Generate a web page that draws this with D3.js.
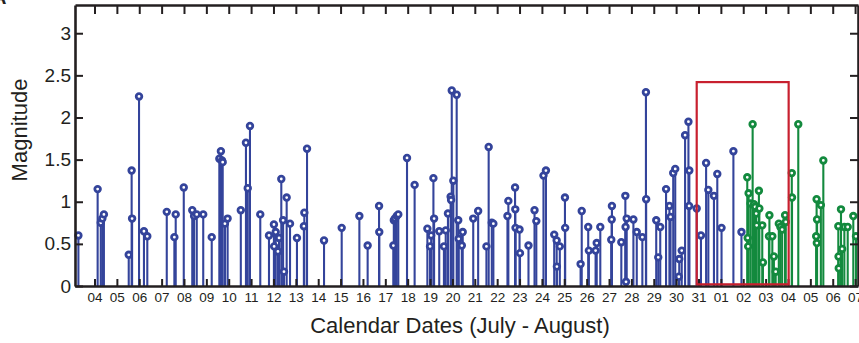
<!DOCTYPE html>
<html>
<head>
<meta charset="UTF-8">
<title>Magnitude - calendar dates</title>
<script src="https://cdn.jsdelivr.net/npm/d3@7"></script>
<style>
    body { margin: 0; background: #fff; }
    svg { display: block; }
    .axis text { fill: #231f20; font-family: "Liberation Sans", Arial, Helvetica, sans-serif; }
    .axis path, .axis line { stroke: #231f20; }
</style>
</head>
<body>
<svg width="859" height="343"></svg>
<script>
// times are days counted from "July 0", so 4.5 = July 4 noon and 32 = Aug 01
var blueTimes = [3.28, 4.14, 4.28, 4.35, 4.42, 5.53, 5.66, 5.68, 5.99, 6.21, 6.36, 7.23, 7.57, 7.63, 7.99,
    8.37, 8.45, 8.57, 8.86, 9.24, 9.58, 9.65, 9.70, 9.73, 9.83, 9.95, 10.54, 10.77, 10.85, 10.95,
    11.41, 11.80, 12.02, 12.03, 12.10, 12.20, 12.25, 12.35, 12.43, 12.47, 12.59, 12.74, 13.05, 13.36, 13.38,
    13.50, 14.26, 15.05, 15.84, 16.21, 16.72, 16.73, 17.36, 17.38, 17.43, 17.51, 17.58, 17.97, 18.31,
    18.88, 19.00, 19.05, 19.15, 19.18, 19.41, 19.62, 19.70, 19.80, 19.92, 19.94, 19.97, 20.04, 20.19,
    20.26, 20.28, 20.42, 20.46, 20.93, 21.15, 21.52, 21.62, 21.76, 21.83, 22.46, 22.50, 22.80, 22.81,
    22.82, 23.00, 23.02, 23.40, 23.67, 23.75, 24.07, 24.18, 24.55, 24.66, 24.67, 24.80, 25.03, 25.04,
    25.73, 25.78, 26.07, 26.10, 26.40, 26.45, 26.61, 27.10, 27.12, 27.13, 27.55, 27.73, 27.74, 27.76,
    27.79, 28.09, 28.24, 28.49, 28.65, 28.66, 29.11, 29.20, 29.29, 29.55, 29.70, 29.75, 29.87, 29.96,
    30.12, 30.14, 30.25, 30.40, 30.55, 30.58, 30.59, 30.92, 31.11, 31.34, 31.44, 31.69, 31.84, 32.03,
    32.56, 32.92];
var blueMags = [0.60, 1.15, 0.75, 0.80, 0.85, 0.37, 1.37, 0.80, 2.25, 0.65, 0.59, 0.88, 0.58, 0.85, 1.17,
    0.90, 0.83, 0.85, 0.85, 0.58, 1.51, 1.60, 1.49, 1.47, 0.74, 0.80, 0.90, 1.70, 1.16, 1.90,
    0.85, 0.60, 0.73, 0.47, 0.64, 0.41, 0.57, 1.27, 0.78, 0.17, 1.05, 0.74, 0.57, 0.71, 0.87,
    1.63, 0.54, 0.69, 0.83, 0.48, 0.95, 0.64, 0.48, 0.78, 0.80, 0.83, 0.85, 1.52, 1.20,
    0.68, 0.47, 0.60, 1.28, 0.80, 0.65, 0.47, 0.66, 0.86, 1.06, 1.02, 2.32, 1.25, 2.27,
    0.78, 0.56, 0.48, 0.64, 0.80, 0.89, 0.47, 1.65, 0.75, 0.74, 0.83, 1.01, 1.17, 0.91,
    0.69, 0.67, 0.39, 0.48, 0.90, 0.77, 1.31, 1.37, 0.61, 0.54, 0.23, 0.47, 1.05, 0.69,
    0.26, 0.89, 0.70, 0.42, 0.42, 0.51, 0.70, 0.55, 0.79, 0.95, 0.52, 1.07, 0.70, 0.05,
    0.80, 0.79, 0.64, 0.58, 2.30, 1.03, 0.78, 0.34, 0.70, 1.15, 0.95, 0.82, 1.34, 1.39,
    0.11, 0.32, 0.42, 1.79, 1.95, 0.95, 1.37, 0.92, 0.60, 1.46, 1.14, 1.07, 1.33, 0.69,
    1.60, 0.64];
var greenTimes = [33.18, 33.20, 33.22, 33.24, 33.33, 33.42, 33.48, 33.53, 33.58, 33.60, 33.70, 33.72,
    33.85, 33.88, 34.15, 34.17, 34.30, 34.37, 34.45, 34.59, 34.66, 34.74, 34.87, 34.90, 35.17, 35.18,
    35.46, 36.26, 36.28, 36.29, 36.30, 36.47, 36.58, 37.25, 37.26, 37.27, 37.37, 37.42, 37.52, 37.67,
    37.92, 38.04];
var greenMags = [1.29, 0.57, 0.47, 1.10, 0.98, 1.92, 0.97, 0.94, 0.86, 0.72, 1.13, 0.92,
    0.72, 0.28, 0.59, 0.84, 0.59, 0.35, 0.17, 0.74, 0.70, 0.67, 0.84, 0.76, 1.34, 1.05,
    1.92, 0.59, 1.03, 0.51, 0.79, 0.96, 1.49, 0.71, 0.35, 0.21, 0.91, 0.44, 0.70, 0.70,
    0.83, 0.59];
var yTicks = [0, 0.5, 1, 1.5, 2, 2.5, 3];
// highlighted window (red box)
var boxTimes = [30.92, 35.03];
var boxMags = [0.02, 2.42];

var svg = d3.select("svg"),
    plotLeft = 75, plotRight = 858, plotTop = 5, plotBottom = 286;

var base = new Date(2014, 5, 30);   // June 30 = "July 0"
function toDate(t) { return new Date(base.getTime() + t * 864e5); }

var x = d3.scaleTime()
    .domain([toDate(3.128), toDate(38.13)])
    .range([plotLeft, plotRight]);
var y = d3.scaleLinear()
    .domain([0, 3.335])
    .range([plotBottom, plotTop]);

var blue = "#34449b", green = "#138a3e";

function drawSeries(times, mags, color) {
    var pts = times.map(function (t, i) { return {date: toDate(t), mag: mags[i]}; });
    var g = svg.append("g");
    g.selectAll("line")
        .data(pts)
        .enter()
        .append("line")
        .attr("x1", function (d) { return x(d.date); })
        .attr("x2", function (d) { return x(d.date); })
        .attr("y1", y(0))
        .attr("y2", function (d) { return y(d.mag); })
        .attr("stroke", color)
        .attr("stroke-width", 2.1);
    g.selectAll("circle")
        .data(pts)
        .enter()
        .append("circle")
        .attr("cx", function (d) { return x(d.date); })
        .attr("cy", function (d) { return y(d.mag); })
        .attr("r", 2.8)
        .attr("fill", "#fff")
        .attr("stroke", color)
        .attr("stroke-width", 2.8);
}

drawSeries(blueTimes, blueMags, blue);
drawSeries(greenTimes, greenMags, green);

// box around the plot, ticks pointing inward
var days = d3.timeDay.every(1);

var xBottom = svg.append("g")
    .attr("class", "axis")
    .attr("transform", "translate(0," + plotBottom + ")")
    .call(d3.axisBottom(x).ticks(days).tickFormat(d3.timeFormat("%d"))
        .tickSizeInner(-7).tickSizeOuter(0).tickPadding(6));
xBottom.selectAll("text").style("font-size", "13.5px");

svg.append("g")
    .attr("class", "axis")
    .attr("transform", "translate(0," + plotTop + ")")
    .call(d3.axisTop(x).ticks(days).tickFormat("").tickSizeInner(-9).tickSizeOuter(0));

var yLeft = svg.append("g")
    .attr("class", "axis")
    .attr("transform", "translate(" + plotLeft + ",0)")
    .call(d3.axisLeft(y).tickValues(yTicks).tickFormat(d3.format(""))
        .tickSizeInner(-8).tickSizeOuter(0).tickPadding(4));
yLeft.selectAll("text").style("font-size", "19px");

svg.append("g")
    .attr("class", "axis")
    .attr("transform", "translate(" + plotRight + ",0)")
    .call(d3.axisRight(y).tickValues(yTicks).tickFormat("").tickSizeInner(-8).tickSizeOuter(0));

svg.selectAll(".axis path").attr("stroke-width", 2.6);
svg.selectAll(".axis line").attr("stroke-width", 2);

// red window
svg.append("rect")
    .attr("x", x(toDate(boxTimes[0])))
    .attr("y", y(boxMags[1]))
    .attr("width", x(toDate(boxTimes[1])) - x(toDate(boxTimes[0])))
    .attr("height", y(boxMags[0]) - y(boxMags[1]))
    .attr("fill", "none")
    .attr("stroke", "#c8202f")
    .attr("stroke-width", 2.2);

// axis titles
svg.append("text")
    .attr("x", 460)
    .attr("y", 333)
    .attr("text-anchor", "middle")
    .style("font", "22px 'Liberation Sans', Arial, sans-serif")
    .style("fill", "#231f20")
    .text("Calendar Dates (July - August)");

svg.append("text")
    .attr("transform", "translate(27,130) rotate(-90)")
    .attr("text-anchor", "middle")
    .style("font", "22px 'Liberation Sans', Arial, sans-serif")
    .style("fill", "#231f20")
    .text("Magnitude");

// panel letter, mostly off the page
svg.append("text")
    .attr("x", -8)
    .attr("y", 4)
    .style("font", "bold 20px 'Liberation Sans', Arial, sans-serif")
    .style("fill", "#231f20")
    .text("A");
</script>
</body>
</html>
